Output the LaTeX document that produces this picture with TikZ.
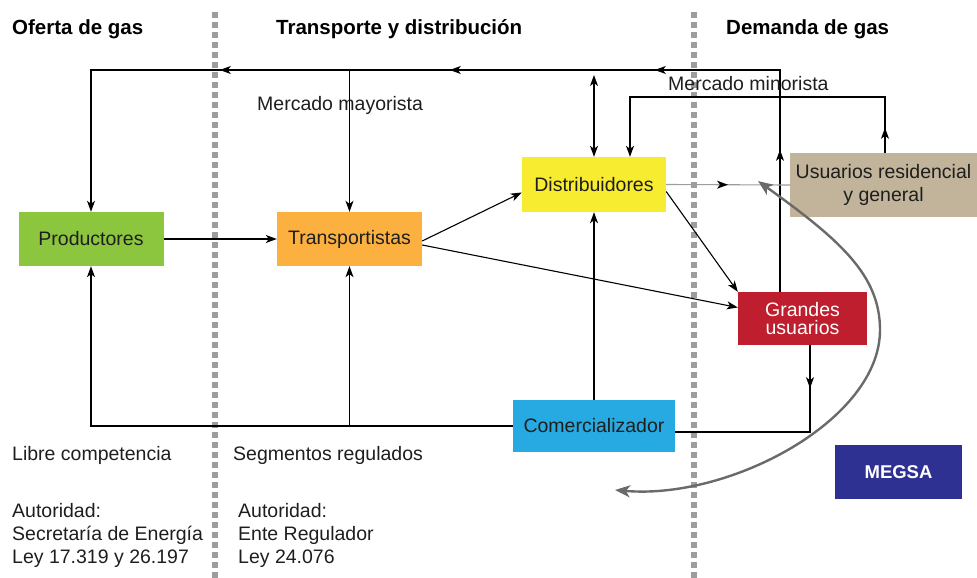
\documentclass[tikz,border=0pt]{standalone}
\usepackage{fontspec}
\setmainfont{Liberation Sans}
\usetikzlibrary{arrows.meta,calc,decorations.markings}
\definecolor{prodgreen}{HTML}{8CC63F}
\definecolor{transorange}{HTML}{FBB040}
\definecolor{distyellow}{HTML}{F8EC31}
\definecolor{comblue}{HTML}{27AAE1}
\definecolor{gured}{HTML}{BE1E2D}
\definecolor{usutan}{HTML}{C2B49A}
\definecolor{megsablue}{HTML}{2E3192}
\definecolor{dotgray}{HTML}{9D9D9D}
\definecolor{curvegray}{HTML}{6A6A6A}
\definecolor{ink}{HTML}{1E1E1E}
\tikzset{
    every picture/.style={x=1pt, y=-1pt},
    >={Stealth[length=11pt, width=8pt, inset=3pt]},
    flow/.style={draw=black, line width=1.1pt},
    box/.style={inner sep=0pt, align=center, text=ink, font=\fontsize{19.5}{23}\selectfont},
    head/.style={anchor=west, inner sep=0pt, font=\bfseries\fontsize{20.5}{24}\selectfont},
    note/.style={anchor=west, inner sep=0pt, text=ink, font=\fontsize{19.5}{23}\selectfont},
    divider/.style={draw=dotgray, line width=5.5pt, dash pattern=on 6pt off 4pt},
    midarrow/.style={postaction={decorate, decoration={markings, mark=at position #1 with {\arrow{Stealth[length=11pt, width=8pt, inset=3pt, color=black]}}}}}
}
\begin{document}
\begin{tikzpicture}
                \useasboundingbox (0,0) rectangle (977,578);
                \draw[divider] (215,12) -- (215,578);
                \draw[divider] (694,12) -- (694,578);
                \node[head] (hofe) at (12,29) {Oferta de gas};
                \node[head] (htra) at (276,29) {Transporte y distribución};
                \node[head] (hdem) at (726,29) {Demanda de gas};
                \node[box, fill=prodgreen, minimum width=145pt, minimum height=54pt] (prod) at (91,239) {Productores};
                \node[box, fill=transorange, minimum width=145pt, minimum height=54pt] (trans) at (349.5,239) {Transportistas};
                \node[box, fill=distyellow, minimum width=144pt, minimum height=55pt] (dist) at (594,184.5) {Distribuidores};
                \node[box, fill=usutan, minimum width=187pt, minimum height=64pt] (usu) at (883.5,185) {Usuarios residencial\\y general};
                \node[box, fill=gured, text=white, minimum width=129pt, minimum height=53pt, font=\fontsize{19.5}{18}\selectfont] (gu) at (802.5,318.5) {Grandes\\usuarios};
                \node[box, fill=comblue, minimum width=162pt, minimum height=52pt] (com) at (594,426) {Comercializador};
                \node[box, fill=megsablue, text=white, minimum width=127pt, minimum height=54pt, font=\bfseries\fontsize{18.5}{22}\selectfont] (megsa) at (898.5,472) {MEGSA};
                \coordinate (topR) at (780,70);
                \coordinate (topL) at (91,70);
                \coordinate (dtop) at (594,75);
                \coordinate (minR) at (885,97);
                \coordinate (minL) at (630,97);
                \coordinate (botL) at (91,426);
                \coordinate (grR) at (810,432);
                \coordinate (cvA) at (758,181);
                \coordinate (cvB) at (615,490);
                \draw[flow, ->, midarrow=142pt, midarrow=347pt, midarrow=552pt, midarrow=782pt] (gu.north -| topR) -- (topR) -- (topL) -- (prod.north);
                \draw[flow, ->] (trans.north |- topL) -- (trans.north);
                \draw[flow, <->] (dtop) -- (dist.north);
                \draw[flow, ->, midarrow=25pt] (usu.north -| minR) -- (minR) -- (minL) -- (dist.north -| minL);
                \draw[flow, ->] (prod.east) -- (trans.west);
                \draw[flow, ->] ($(trans.east)+(0,2)$) -- ($(dist.west)+(0,8)$);
                \draw[flow, ->] ($(trans.east)+(0,6)$) -- ($(gu.west)+(0,-11)$);
                \draw[flow, ->] ($(dist.east)+(0,7)$) -- (gu.north west);
                \draw[draw=dotgray, line width=1.1pt, midarrow=0.5] (dist.east) -- (usu.west);
                \draw[flow, ->] (com.west) -- (botL) -- (prod.south);
                \draw[flow, ->] (trans.south |- botL) -- (trans.south);
                \draw[flow, ->] (com.north) -- (dist.south);
                \draw[flow, midarrow=43pt] (gu.south -| grR) -- (grR) -- (com.east |- grR);
                \draw[draw=curvegray, line width=2.4pt, {Stealth[length=15pt, width=12pt, inset=4pt]}-{Stealth[length=15pt, width=12pt, inset=4pt]}] (cvA) .. controls (840,240) and (880,275) .. (880,330) .. controls (880,420) and (730,500) .. (cvB);
                \node[note] (mmay) at (257,105) {Mercado mayorista};
                \node[note] (mmin) at (668,84) {Mercado minorista};
                \node[note] (libre) at (12,455) {Libre competencia};
                \node[note] (segm) at (233,455) {Segmentos regulados};
                \node[note, anchor=north west, align=left] (aut1) at (12,503) {Autoridad:\\Secretaría de Energía\\Ley 17.319 y 26.197};
                \node[note, anchor=north west, align=left] (aut2) at (238,503) {Autoridad:\\Ente Regulador\\Ley 24.076};
            \end{tikzpicture}
\end{document}
